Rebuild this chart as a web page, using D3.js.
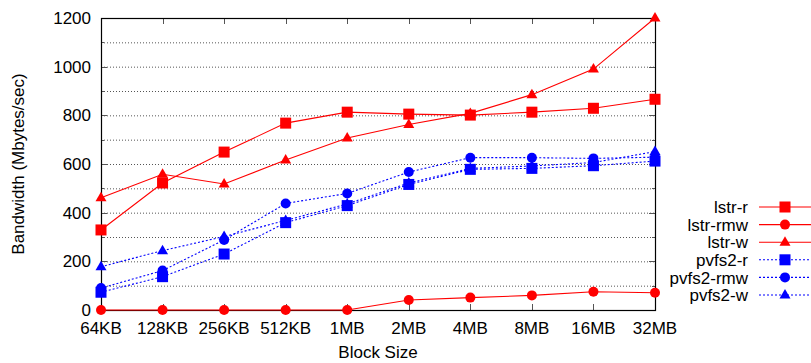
<!DOCTYPE html>
<html>
<head>
<meta charset="utf-8">
<script src="https://cdn.jsdelivr.net/npm/d3@7.9.0/dist/d3.min.js"></script>
<style>
  body { margin: 0; background: #fff; }
  svg { display: block; font-family: "Liberation Sans", Arial, sans-serif; }
</style>
</head>
<body>
<svg id="chart" width="811" height="363"></svg>
<script>
// block sizes on x axis
const blockSizes = ['64KB', '128KB', '256KB', '512KB', '1MB', '2MB', '4MB', '8MB', '16MB', '32MB'];

// bandwidth values (Mbytes/sec)
const lstrR     = [329, 522, 649, 768, 813, 805, 801, 813, 829, 866];
const lstrRmw   = [0, 0, 0, 0, 0, 41, 51, 60, 75, 71];
const lstrW     = [461, 558, 518, 616, 707, 762, 808, 885, 990, 1200];
const pvfs2R    = [73, 137, 230, 359, 429, 516, 578, 582, 593, 612];
const pvfs2Rmw  = [90, 162, 288, 438, 479, 567, 626, 626, 623, 628];
const pvfs2W    = [178, 244, 302, 368, 436, 522, 582, 592, 606, 651];

const yTicks = [0, 200, 400, 600, 800, 1000, 1200];

const series = [
  { name: 'lstr-r',     values: lstrR,    color: '#ff0000', dash: null,  marker: 'square' },
  { name: 'lstr-rmw',   values: lstrRmw,  color: '#ff0000', dash: null,  marker: 'circle' },
  { name: 'lstr-w',     values: lstrW,    color: '#ff0000', dash: null,  marker: 'triangle' },
  { name: 'pvfs2-r',    values: pvfs2R,   color: '#0000ff', dash: '2,2', marker: 'square' },
  { name: 'pvfs2-rmw',  values: pvfs2Rmw, color: '#0000ff', dash: '2,2', marker: 'circle' },
  { name: 'pvfs2-w',    values: pvfs2W,   color: '#0000ff', dash: '2,2', marker: 'triangle' },
];

const svg = d3.select('#chart');
const area = { left: 101, right: 655, top: 18, bottom: 310 };

const x = d3.scalePoint().domain(blockSizes).range([area.left, area.right]);
const y = d3.scaleLinear().domain([0, 1200]).range([area.bottom, area.top]);

// dotted gridlines every 100
svg.append('g')
  .selectAll('line')
  .data(d3.range(100, 1200, 100))
  .join('line')
  .attr('x1', area.left).attr('x2', area.right)
  .attr('y1', d => y(d) + 0.5).attr('y2', d => y(d) + 0.5)
  .attr('stroke', '#555')
  .attr('stroke-width', 1)
  .attr('stroke-dasharray', '1,2');

// inward ticks on all sides
const tickLen = 6;
const tg = svg.append('g').attr('stroke', '#555').attr('stroke-width', 1);
blockSizes.forEach(b => {
  const xx = Math.round(x(b)) + 0.5;
  tg.append('line').attr('x1', xx).attr('x2', xx).attr('y1', area.bottom).attr('y2', area.bottom - tickLen);
  tg.append('line').attr('x1', xx).attr('x2', xx).attr('y1', area.top).attr('y2', area.top + tickLen);
});
d3.range(0, 1300, 100).forEach(v => {
  const yy = Math.round(y(v)) + 0.5;
  const len = v % 200 === 0 ? tickLen : tickLen / 2;
  tg.append('line').attr('x1', area.left).attr('x2', area.left + len).attr('y1', yy).attr('y2', yy);
  tg.append('line').attr('x1', area.right).attr('x2', area.right - len).attr('y1', yy).attr('y2', yy);
});

// frame
svg.append('rect')
  .attr('x', area.left + 0.5).attr('y', area.top + 0.5)
  .attr('width', area.right - area.left).attr('height', area.bottom - area.top)
  .attr('fill', 'none').attr('stroke', '#000').attr('stroke-width', 1.2);

// tick labels
svg.append('g')
  .selectAll('text')
  .data(yTicks)
  .join('text')
  .attr('x', area.left - 10)
  .attr('y', d => y(d))
  .attr('dy', '0.36em')
  .attr('text-anchor', 'end')
  .attr('font-size', 17)
  .text(d => d);

svg.append('g')
  .selectAll('text')
  .data(blockSizes)
  .join('text')
  .attr('x', d => x(d))
  .attr('y', area.bottom + 24)
  .attr('text-anchor', 'middle')
  .attr('font-size', 17)
  .text(d => d);

// axis titles
svg.append('text')
  .attr('transform', `translate(24,${(area.top + area.bottom) / 2}) rotate(-90)`)
  .attr('text-anchor', 'middle')
  .attr('font-size', 17)
  .text('Bandwidth (Mbytes/sec)');

svg.append('text')
  .attr('x', (area.left + area.right) / 2)
  .attr('y', 358)
  .attr('text-anchor', 'middle')
  .attr('font-size', 17)
  .text('Block Size');

function drawMarker(g, type, cx, cy, color) {
  if (type === 'square') {
    g.append('rect').attr('x', cx - 5.5).attr('y', cy - 5.5).attr('width', 11).attr('height', 11).attr('fill', color);
  } else if (type === 'circle') {
    g.append('circle').attr('cx', cx).attr('cy', cy).attr('r', 5).attr('fill', color);
  } else {
    g.append('path')
      .attr('d', `M${cx},${cy - 6}L${cx + 5.5},${cy + 3.5}L${cx - 5.5},${cy + 3.5}Z`)
      .attr('fill', color);
  }
}

const line = d3.line().x((d, i) => x(blockSizes[i])).y(d => y(d));

series.forEach(s => {
  const g = svg.append('g');
  g.append('path')
    .attr('d', line(s.values))
    .attr('fill', 'none')
    .attr('stroke', s.color)
    .attr('stroke-width', 1.1)
    .attr('stroke-dasharray', s.dash);
  s.values.forEach((v, i) => drawMarker(g, s.marker, x(blockSizes[i]), y(v), s.color));
});

// legend
const legendTop = 207, legendStep = 17.6;
series.forEach((s, i) => {
  const ly = legendTop + i * legendStep;
  const g = svg.append('g');
  g.append('text')
    .attr('x', 748).attr('y', ly).attr('dy', '0.36em')
    .attr('text-anchor', 'end')
    .attr('font-size', 17)
    .text(s.name);
  g.append('line')
    .attr('x1', 759).attr('x2', 811).attr('y1', ly).attr('y2', ly)
    .attr('stroke', s.color).attr('stroke-width', 1.1)
    .attr('stroke-dasharray', s.dash);
  drawMarker(g, s.marker, 785, ly, s.color);
});
</script>
</body>
</html>
